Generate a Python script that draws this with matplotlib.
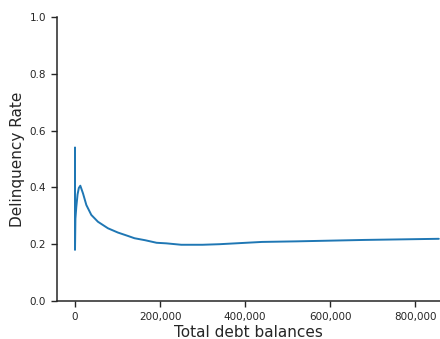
import matplotlib
matplotlib.use("Agg")
import matplotlib.pyplot as plt
import seaborn as sns
from matplotlib.ticker import FuncFormatter

debt = [0, 0, 0, 1000, 3000, 6000, 9000, 12500, 18800, 26700, 38400, 54000,
        77600, 101000, 124700, 140000, 165000, 192000, 215000, 250000,
        300000, 340000, 390000, 440000, 520000, 680000, 856000]
rate = [0.30, 0.54, 0.18, 0.29, 0.33, 0.375, 0.398, 0.406, 0.379, 0.338, 0.303,
        0.279, 0.256, 0.241, 0.229, 0.221, 0.214, 0.205, 0.203, 0.198,
        0.198, 0.200, 0.204, 0.208, 0.210, 0.215, 0.219]

sns.set_style("ticks")
plt.rcParams['font.family'] = ['DejaVu Sans']

fig = plt.figure(figsize=(4.4, 3.39), dpi=100)
ax = fig.add_axes([57/440, 38/339, 1 - 57/440, 284/339])
ax.plot(debt, rate, color='#1f77b4', linewidth=1.4)
ax.set_xlim(-42350, 858800)
ax.set_ylim(0, 1.0)
ax.set_yticks([0.0, 0.2, 0.4, 0.6, 0.8, 1.0])
ax.set_xticks([0, 200000, 400000, 600000, 800000])
ax.xaxis.set_major_formatter(FuncFormatter(lambda v, p: f"{int(v):,}"))
ax.tick_params(labelsize=7.5, colors='.15', length=4.5, width=1)
ax.set_xlabel("Total debt balances", fontsize=11, color='.15', labelpad=2)
ax.set_ylabel("Delinquency Rate", fontsize=11, color='.15')
ax.yaxis.set_label_coords(-0.084, 0.5)
sns.despine(ax=ax)
for s in ['left', 'bottom']:
    ax.spines[s].set_color('.15')
    ax.spines[s].set_linewidth(1.1)
fig.savefig("out.png", dpi=100)
